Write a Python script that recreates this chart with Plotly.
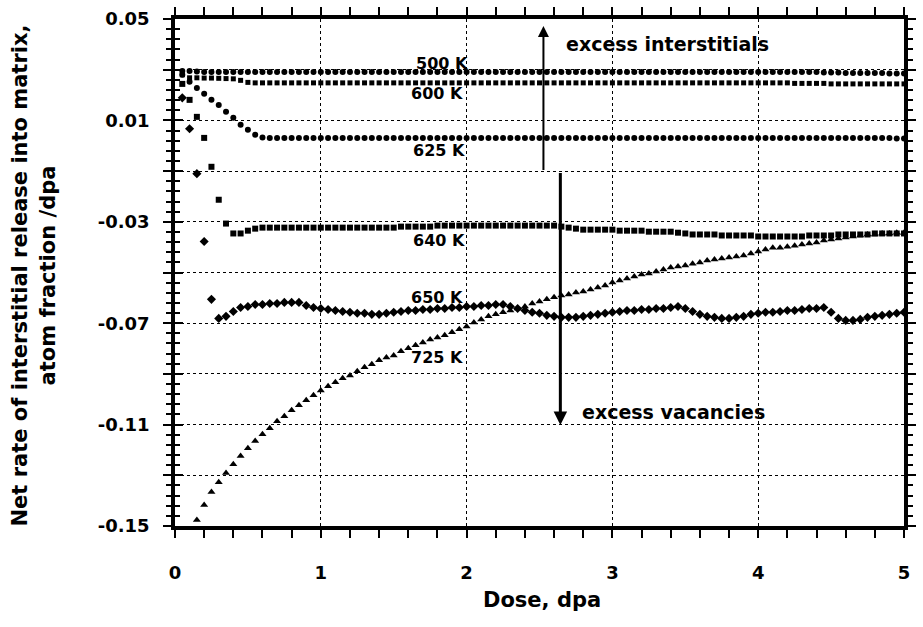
import plotly.graph_objects as go

# Dose sampling grid (dpa)
dose = [round(0.05 * i, 2) for i in range(1, 101)]

k500 = [0.0295, 0.0295, 0.0293, 0.0291, 0.0291, 0.0291, 0.0291, 0.0291, 0.0291, 0.0291,
        0.0291, 0.0291, 0.0291, 0.0291, 0.0291, 0.0291, 0.0291, 0.0291, 0.0291, 0.0291,
        0.0291, 0.0291, 0.0291, 0.0291, 0.0291, 0.0291, 0.0291, 0.0291, 0.0291, 0.0291,
        0.0291, 0.0291, 0.0291, 0.0291, 0.0291, 0.0291, 0.0291, 0.0291, 0.0291, 0.0291,
        0.0291, 0.0291, 0.0291, 0.0291, 0.0291, 0.0291, 0.0291, 0.0291, 0.0291, 0.0291,
        0.0291, 0.0291, 0.0291, 0.0291, 0.0291, 0.0291, 0.0291, 0.0291, 0.0291, 0.0291,
        0.0291, 0.0291, 0.0291, 0.0291, 0.0291, 0.0291, 0.0291, 0.0291, 0.0291, 0.0291,
        0.0291, 0.0291, 0.0291, 0.0291, 0.0291, 0.0291, 0.0291, 0.0291, 0.0291, 0.0291,
        0.0291, 0.0291, 0.0291, 0.0291, 0.0291, 0.0291, 0.0291, 0.0291, 0.0289, 0.0289,
        0.0289, 0.0287, 0.0287, 0.0287, 0.0287, 0.0287, 0.0287, 0.0285, 0.0285, 0.0285]

k600 = [0.0280, 0.0268, 0.0268, 0.0267, 0.0267, 0.0266, 0.0265, 0.0264, 0.0258, 0.0250,
        0.0248, 0.0248, 0.0248, 0.0248, 0.0248, 0.0248, 0.0248, 0.0248, 0.0248, 0.0248,
        0.0248, 0.0248, 0.0248, 0.0248, 0.0248, 0.0248, 0.0248, 0.0248, 0.0248, 0.0248,
        0.0248, 0.0248, 0.0248, 0.0248, 0.0248, 0.0248, 0.0248, 0.0248, 0.0248, 0.0248,
        0.0248, 0.0248, 0.0248, 0.0248, 0.0248, 0.0248, 0.0248, 0.0248, 0.0248, 0.0248,
        0.0248, 0.0248, 0.0248, 0.0248, 0.0248, 0.0248, 0.0248, 0.0248, 0.0248, 0.0248,
        0.0248, 0.0248, 0.0248, 0.0248, 0.0248, 0.0248, 0.0248, 0.0248, 0.0248, 0.0248,
        0.0248, 0.0248, 0.0248, 0.0248, 0.0248, 0.0248, 0.0248, 0.0248, 0.0248, 0.0248,
        0.0248, 0.0248, 0.0248, 0.0248, 0.0246, 0.0246, 0.0246, 0.0246, 0.0246, 0.0244,
        0.0244, 0.0244, 0.0244, 0.0244, 0.0244, 0.0244, 0.0244, 0.0244, 0.0244, 0.0244]

k625 = [0.0280, 0.0252, 0.0228, 0.0205, 0.0181, 0.0161, 0.0134, 0.0110, 0.0083, 0.0063,
        0.0043, 0.0033, 0.0031, 0.0031, 0.0031, 0.0031, 0.0031, 0.0031, 0.0031, 0.0031,
        0.0031, 0.0031, 0.0031, 0.0031, 0.0031, 0.0031, 0.0031, 0.0031, 0.0031, 0.0031,
        0.0031, 0.0031, 0.0031, 0.0031, 0.0031, 0.0031, 0.0031, 0.0031, 0.0031, 0.0031,
        0.0031, 0.0031, 0.0031, 0.0031, 0.0031, 0.0031, 0.0031, 0.0031, 0.0031, 0.0031,
        0.0031, 0.0031, 0.0031, 0.0031, 0.0031, 0.0031, 0.0031, 0.0031, 0.0031, 0.0031,
        0.0031, 0.0031, 0.0031, 0.0031, 0.0031, 0.0031, 0.0031, 0.0031, 0.0031, 0.0031,
        0.0031, 0.0031, 0.0031, 0.0031, 0.0031, 0.0031, 0.0031, 0.0031, 0.0031, 0.0031,
        0.0031, 0.0031, 0.0031, 0.0031, 0.0031, 0.0031, 0.0031, 0.0031, 0.0031, 0.0031,
        0.0031, 0.0031, 0.0031, 0.0031, 0.0031, 0.0031, 0.0031, 0.0031, 0.0029, 0.0029]

k640 = [0.0244, 0.0181, 0.0114, 0.0031, -0.0083, -0.0213, -0.0307, -0.0346, -0.0346, -0.0335,
        -0.0327, -0.0323, -0.0323, -0.0323, -0.0323, -0.0323, -0.0323, -0.0323, -0.0323, -0.0323,
        -0.0323, -0.0323, -0.0323, -0.0323, -0.0323, -0.0323, -0.0323, -0.0323, -0.0323, -0.0323,
        -0.0319, -0.0319, -0.0319, -0.0319, -0.0319, -0.0315, -0.0315, -0.0315, -0.0315, -0.0315,
        -0.0315, -0.0315, -0.0315, -0.0315, -0.0315, -0.0315, -0.0315, -0.0315, -0.0315, -0.0315,
        -0.0315, -0.0315, -0.0319, -0.0323, -0.0327, -0.0331, -0.0331, -0.0331, -0.0331, -0.0331,
        -0.0335, -0.0335, -0.0335, -0.0335, -0.0339, -0.0339, -0.0339, -0.0339, -0.0343, -0.0346,
        -0.0350, -0.0350, -0.0350, -0.0350, -0.0354, -0.0354, -0.0354, -0.0354, -0.0354, -0.0358,
        -0.0358, -0.0358, -0.0358, -0.0358, -0.0358, -0.0358, -0.0354, -0.0354, -0.0354, -0.0354,
        -0.0350, -0.0350, -0.0350, -0.0350, -0.0350, -0.0346, -0.0346, -0.0346, -0.0346, -0.0346]

k650 = [0.0189, 0.0067, -0.0110, -0.0378, -0.0606, -0.0681, -0.0673, -0.0654, -0.0638, -0.0634,
        -0.0626, -0.0626, -0.0622, -0.0622, -0.0618, -0.0618, -0.0618, -0.0630, -0.0638, -0.0642,
        -0.0646, -0.0650, -0.0654, -0.0657, -0.0661, -0.0661, -0.0665, -0.0665, -0.0661, -0.0657,
        -0.0654, -0.0650, -0.0650, -0.0646, -0.0646, -0.0642, -0.0642, -0.0638, -0.0638, -0.0634,
        -0.0634, -0.0630, -0.0630, -0.0626, -0.0626, -0.0634, -0.0642, -0.0650, -0.0657, -0.0661,
        -0.0669, -0.0673, -0.0677, -0.0677, -0.0677, -0.0673, -0.0669, -0.0665, -0.0661, -0.0657,
        -0.0654, -0.0650, -0.0650, -0.0646, -0.0646, -0.0642, -0.0642, -0.0638, -0.0634, -0.0642,
        -0.0654, -0.0665, -0.0673, -0.0677, -0.0681, -0.0681, -0.0677, -0.0673, -0.0665, -0.0661,
        -0.0657, -0.0657, -0.0654, -0.0650, -0.0650, -0.0646, -0.0642, -0.0642, -0.0638, -0.0657,
        -0.0681, -0.0689, -0.0689, -0.0685, -0.0677, -0.0673, -0.0669, -0.0665, -0.0661, -0.0657]

# 725 K: first two samples fall below the plotted range, so the series starts at the 3rd dose
k725_dose = dose[2:]
k725 = [-0.1476, -0.1417, -0.1366, -0.1327, -0.1291, -0.1256, -0.1224, -0.1193,
        -0.1165, -0.1138, -0.1114, -0.1087, -0.1067, -0.1043, -0.1024, -0.1004, -0.0984, -0.0965,
        -0.0949, -0.0933, -0.0917, -0.0906, -0.0890, -0.0874, -0.0862, -0.0846, -0.0835, -0.0827,
        -0.0811, -0.0799, -0.0787, -0.0776, -0.0764, -0.0756, -0.0748, -0.0736, -0.0724, -0.0713,
        -0.0697, -0.0685, -0.0673, -0.0665, -0.0657, -0.0650, -0.0642, -0.0634, -0.0622, -0.0614,
        -0.0606, -0.0598, -0.0591, -0.0587, -0.0579, -0.0575, -0.0567, -0.0559, -0.0551, -0.0539,
        -0.0532, -0.0524, -0.0516, -0.0508, -0.0504, -0.0496, -0.0488, -0.0480, -0.0476, -0.0472,
        -0.0465, -0.0461, -0.0453, -0.0449, -0.0445, -0.0441, -0.0437, -0.0433, -0.0425, -0.0417,
        -0.0409, -0.0402, -0.0402, -0.0398, -0.0394, -0.0390, -0.0386, -0.0382, -0.0374, -0.0370,
        -0.0366, -0.0362, -0.0358, -0.0354, -0.0350, -0.0350, -0.0346, -0.0346, -0.0343, -0.0343]

x_tickvals = [0, 1, 2, 3, 4, 5]
x_ticktext = ["0", "1", "2", "3", "4", "5"]
y_tickvals = [0.05, 0.03, 0.01, -0.01, -0.03, -0.05, -0.07, -0.09, -0.11, -0.13, -0.15]
y_ticktext = ["0.05", "", "0.01", "", "-0.03", "", "-0.07", "", "-0.11", "", "-0.15"]

curve_labels = ["500 K", "600 K", "625 K", "640 K", "650 K", "725 K"]
label_x = [1.83, 1.80, 1.81, 1.81, 1.80, 1.80]
label_y = [0.0323, 0.0205, -0.0020, -0.0374, -0.0598, -0.0835]

FONT = "DejaVu Sans"

fig = go.Figure()

series = [
    (dose, k500, "circle", 6),
    (dose, k600, "square", 5),
    (dose, k625, "circle", 6),
    (dose, k640, "square", 6),
    (dose, k650, "diamond", 7),
    (k725_dose, k725, "triangle-up", 7),
]
for xs, ys, sym, sz in series:
    fig.add_trace(go.Scatter(x=xs, y=ys, mode="markers",
                             marker=dict(symbol=sym, size=sz, color="black", line=dict(width=0)),
                             showlegend=False, hoverinfo="skip"))

# empty trace on the overlay axis so its inner ticks are drawn
fig.add_trace(go.Scatter(x=[], y=[], yaxis="y2", showlegend=False))

axis_common = dict(linecolor="black", linewidth=3.5, showline=True, zeroline=False,
                   tickcolor="black", tickwidth=2, ticklen=8)

fig.update_layout(
    width=923, height=627,
    margin=dict(l=175, r=7, t=18, b=101),
    paper_bgcolor="white", plot_bgcolor="white",
    xaxis=dict(range=[0, 5], tickmode="array", tickvals=x_tickvals, ticktext=x_ticktext,
               ticks="outside", mirror="allticks", showgrid=True, gridcolor="black",
               griddash="dot", gridwidth=1.3, ticklabelstandoff=20,
               tickfont=dict(family=FONT, size=18, color="black", weight="bold"),
               minor=dict(tick0=0, dtick=0.2, ticks="outside", ticklen=5, tickwidth=2,
                          tickcolor="black", showgrid=False),
               **axis_common),
    yaxis=dict(range=[-0.15, 0.05], tickmode="array", tickvals=y_tickvals, ticktext=y_ticktext,
               ticks="outside", mirror="allticks", showgrid=True, gridcolor="black",
               griddash="dot", gridwidth=1.3, ticklabelstandoff=10,
               tickfont=dict(family=FONT, size=18, color="black", weight="bold"),
               minor=dict(tick0=-0.15, dtick=0.004, ticks="outside", ticklen=5, tickwidth=2,
                          tickcolor="black", showgrid=False),
               **axis_common),
    yaxis2=dict(overlaying="y", matches="y", side="left", anchor="x", range=[-0.15, 0.05],
                tickmode="array", tickvals=y_tickvals, showticklabels=False, ticks="inside",
                ticklen=8, tickwidth=2, tickcolor="black", showgrid=False, showline=False,
                zeroline=False,
                minor=dict(tick0=-0.15, dtick=0.004, ticks="inside", ticklen=5, tickwidth=2,
                           tickcolor="black", showgrid=False)),
)

for txt, lx, ly in zip(curve_labels, label_x, label_y):
    fig.add_annotation(x=lx, y=ly, text=txt, showarrow=False, xanchor="center", yanchor="middle",
                       font=dict(family=FONT, size=16, color="black", weight="bold"))

fig.add_annotation(x=2.67, y=0.0402, text="excess interstitials", showarrow=False,
                   xanchor="left", yanchor="middle",
                   font=dict(family=FONT, size=19, color="black", weight="bold"))
fig.add_annotation(x=2.78, y=-0.1051, text="excess vacancies", showarrow=False,
                   xanchor="left", yanchor="middle",
                   font=dict(family=FONT, size=19, color="black", weight="bold"))

# arrows
fig.add_annotation(x=2.527, y=0.0472, ax=2.527, ay=-0.0102, xref="x", yref="y",
                   axref="x", ayref="y", text="", showarrow=True, arrowhead=2,
                   arrowsize=1.1, arrowwidth=2, arrowcolor="black")
fig.add_annotation(x=2.643, y=-0.1102, ax=2.643, ay=-0.0102, xref="x", yref="y",
                   axref="x", ayref="y", text="", showarrow=True, arrowhead=2,
                   arrowsize=0.9, arrowwidth=3, arrowcolor="black")

# axis titles
fig.add_annotation(xref="paper", yref="paper", x=-0.1935, y=0.494,
                   text="Net rate of interstitial release into matrix,<br>atom fraction /dpa",
                   textangle=-90, showarrow=False, xanchor="center", yanchor="middle",
                   font=dict(family=FONT, size=21, color="black", weight="bold"))
fig.add_annotation(xref="paper", yref="paper", x=0.504, y=-0.1457, text="Dose, dpa",
                   showarrow=False, xanchor="center", yanchor="middle",
                   font=dict(family=FONT, size=21, color="black", weight="bold"))

fig.write_html("out.html")
